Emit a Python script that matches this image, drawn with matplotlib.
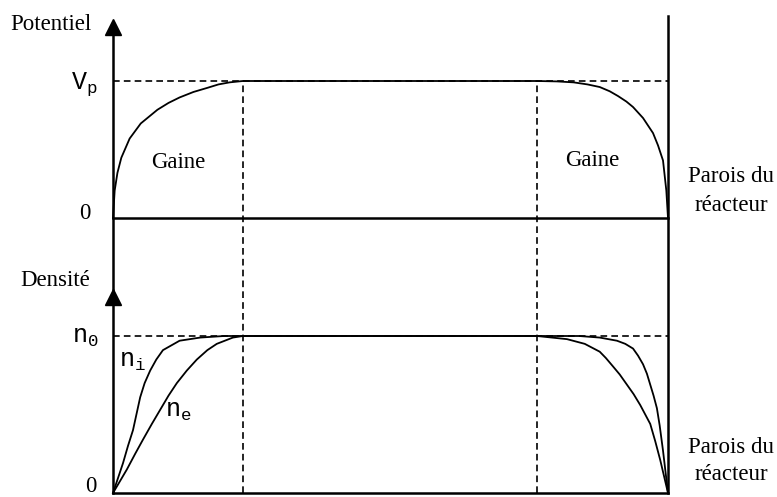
import matplotlib.pyplot as plt

plt.rcParams['font.family'] = 'Liberation Serif'
plt.rcParams['mathtext.fontset'] = 'custom'
plt.rcParams['mathtext.rm'] = 'Liberation Serif'
plt.rcParams['mathtext.tt'] = 'Liberation Mono'

# sheath edges (fraction of reactor width)
sheath_left = 0.234
sheath_right = 0.764

# potential profile near each wall: distance from wall, fraction of Vp
pot_left_d = [0, 0.003, 0.008, 0.015, 0.03, 0.05, 0.08, 0.1, 0.12, 0.145, 0.17, 0.19, 0.21, 0.234]
pot_left_v = [0, 0.20, 0.33, 0.44, 0.58, 0.69, 0.79, 0.84, 0.88, 0.92, 0.95, 0.975, 0.99, 1.0]
pot_right_d = [0, 0.003, 0.009, 0.018, 0.027, 0.045, 0.063, 0.075, 0.09, 0.105, 0.123, 0.145, 0.17, 0.2, 0.236]
pot_right_v = [0, 0.20, 0.42, 0.53, 0.62, 0.73, 0.81, 0.85, 0.89, 0.925, 0.956, 0.975, 0.99, 0.997, 1.0]

# ion / electron density near each wall: distance from wall, fraction of n0
ni_left_d = [0, 0.018, 0.027, 0.036, 0.049, 0.057, 0.067, 0.078, 0.09, 0.105, 0.12, 0.157, 0.2]
ni_left_v = [0, 0.19, 0.30, 0.40, 0.61, 0.70, 0.78, 0.85, 0.91, 0.94, 0.97, 0.99, 1.0]
ne_left_d = [0, 0.025, 0.04, 0.054, 0.07, 0.085, 0.1, 0.115, 0.133, 0.151, 0.17, 0.187, 0.216, 0.234]
ne_left_v = [0, 0.15, 0.25, 0.34, 0.44, 0.53, 0.62, 0.70, 0.78, 0.85, 0.91, 0.95, 0.99, 1.0]
ni_right_d = [0, 0.009, 0.015, 0.02, 0.026, 0.032, 0.038, 0.045, 0.054, 0.063, 0.077, 0.092, 0.123, 0.16]
ni_right_v = [0, 0.27, 0.43, 0.54, 0.62, 0.69, 0.76, 0.82, 0.875, 0.92, 0.95, 0.97, 0.99, 1.0]
ne_right_d = [0, 0.014, 0.023, 0.032, 0.041, 0.05, 0.062, 0.074, 0.087, 0.1, 0.112, 0.123, 0.15, 0.182, 0.236]
ne_right_v = [0, 0.21, 0.33, 0.44, 0.50, 0.56, 0.63, 0.69, 0.755, 0.81, 0.86, 0.90, 0.95, 0.98, 1.0]


def profile(left_d, left_v, right_d, right_v):
    xs = list(left_d) + [1 - d for d in reversed(right_d)]
    ys = list(left_v) + list(reversed(right_v))
    return xs, ys


W, H = 777, 497
fig = plt.figure(figsize=(W / 100, H / 100), dpi=100)

# pixel layout of the drawing
x0_px, x1_px = 113, 668
xlim = (-x0_px / (x1_px - x0_px), (W - x0_px) / (x1_px - x0_px))

# top panel: 0 at y=218 px, Vp at y=81 px
top = fig.add_axes([0, 0, 1, 1])
top.set_xlim(*xlim)
top.set_ylim((218 - H) / 137, 218 / 137)
top.axis('off')

# bottom panel: 0 at y=493 px, n0 at y=336 px
bot = fig.add_axes([0, 0, 1, 1])
bot.set_xlim(*xlim)
bot.set_ylim((493 - H) / 157, 493 / 157)
bot.axis('off')
bot.patch.set_alpha(0)

lw_axis = 1.8
lw_curve = 1.3
dash = (0, (4, 2.5))

# vertical axis + arrow heads, right wall
bot.plot([0, 0], [0, (493 - 24) / 157], color='k', lw=lw_axis)
bot.plot([0], [(493 - 26.5) / 157], marker='^', ms=11, color='k')
bot.plot([0], [(493 - 296.5) / 157], marker='^', ms=11, color='k')
bot.plot([1, 1], [0, (493 - 16) / 157], color='k', lw=lw_axis)

# sheath boundaries
for xs in (sheath_left, sheath_right):
    bot.plot([xs, xs], [0, (493 - 81) / 157], color='k', lw=1.2, ls=dash)

# top panel lines
top.plot([0, 1], [1, 1], color='k', lw=1.2, ls=dash)
top.plot([0, 1], [0, 0], color='k', lw=lw_axis)
px, py = profile(pot_left_d, pot_left_v, pot_right_d, pot_right_v)
top.plot(px, py, color='k', lw=lw_curve)

# bottom panel lines
bot.plot([0, 1], [1, 1], color='k', lw=1.2, ls=dash)
bot.plot([0, 1], [0, 0], color='k', lw=lw_axis)
nx, ny = profile(ni_left_d, ni_left_v, ni_right_d, ni_right_v)
bot.plot(nx, ny, color='k', lw=lw_curve)
ex, ey = profile(ne_left_d, ne_left_v, ne_right_d, ne_right_v)
bot.plot(ex, ey, color='k', lw=lw_curve)


def ftext(x, y, s, **kw):
    fig.text(x / W, 1 - y / H, s, **kw)


fs = 16.5
fm = 18
ftext(10, 25, 'Potentiel', fontsize=fs, va='center', ha='left')
ftext(98, 84, r'$\mathtt{V_p}$', fontsize=fm, va='center', ha='right')
ftext(90, 214, '0', fontsize=fs, va='center', ha='right')
ftext(20, 280, 'Densité', fontsize=fs, va='center', ha='left')
ftext(99, 338, r'$\mathtt{n_0}$', fontsize=fm, va='center', ha='right')
ftext(97, 487, '0', fontsize=fs, va='center', ha='right')
ftext(178, 163, 'Gaine', fontsize=fs, va='center', ha='center')
ftext(592, 160, 'Gaine', fontsize=fs, va='center', ha='center')
ftext(119, 362, r'$\mathtt{n_i}$', fontsize=fm, va='center', ha='left')
ftext(165, 412, r'$\mathtt{n_e}$', fontsize=fm, va='center', ha='left')
ftext(731, 191, 'Parois du\nréacteur', fontsize=fs, va='center', ha='center',
      linespacing=1.45)
ftext(731, 461, 'Parois du\nréacteur', fontsize=fs, va='center', ha='center',
      linespacing=1.35)

fig.savefig('out.png', dpi=100)
